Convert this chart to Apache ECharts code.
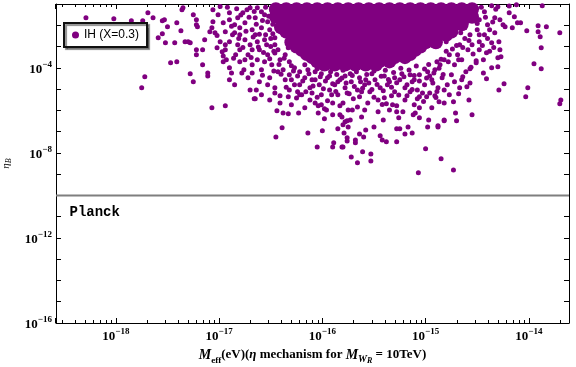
<!DOCTYPE html>
<html>
<head>
<meta charset="utf-8">
<script src="https://cdn.jsdelivr.net/npm/echarts@6/dist/echarts.min.js"></script>
<style>
  html, body { margin: 0; padding: 0; background: #fff; }
  #chart { width: 576px; height: 367px; }
</style>
</head>
<body>
<div id="chart"></div>
<script>
const seriesName = 'IH (X=0.3)'
const xRange = [2.63e-19, 2.45e-14]
const yRange = [1e-16, 1e-1]
const planck = 1e-10

// minor ticks of the log x axis (2..9 x 10^n)
const xMinorTicks = [
  3e-19, 4e-19, 5e-19, 6e-19, 7e-19, 8e-19, 9e-19,
  2e-18, 3e-18, 4e-18, 5e-18, 6e-18, 7e-18, 8e-18, 9e-18,
  2e-17, 3e-17, 4e-17, 5e-17, 6e-17, 7e-17, 8e-17, 9e-17,
  2e-16, 3e-16, 4e-16, 5e-16, 6e-16, 7e-16, 8e-16, 9e-16,
  2e-15, 3e-15, 4e-15, 5e-15, 6e-15, 7e-15, 8e-15, 9e-15,
  2e-14,
]

// points as [log10 Meff, log10 etaB]
// the solid dense core of the cloud
const corePoints = [
  [-16.45, -1.25], [-16.35, -1.25], [-16.25, -1.25], [-16.15, -1.25], [-16.05, -1.25], [-15.95, -1.25], [-15.85, -1.25],
  [-15.75, -1.25], [-15.65, -1.25], [-15.55, -1.25], [-15.45, -1.25], [-15.35, -1.25], [-15.25, -1.25], [-15.15, -1.25],
  [-15.05, -1.25], [-14.95, -1.25], [-14.85, -1.25], [-14.75, -1.25], [-14.65, -1.25], [-14.55, -1.25],
  [-16.45, -1.6], [-16.35, -1.6], [-16.25, -1.6], [-16.15, -1.6], [-16.05, -1.6], [-15.95, -1.6], [-15.85, -1.6],
  [-15.75, -1.6], [-15.65, -1.6], [-15.55, -1.6], [-15.45, -1.6], [-15.35, -1.6], [-15.25, -1.6], [-15.15, -1.6],
  [-15.05, -1.6], [-14.95, -1.6], [-14.85, -1.6], [-14.75, -1.6], [-14.65, -1.6], [-14.55, -1.6],
  [-16.35, -1.95], [-16.25, -1.95], [-16.15, -1.95], [-16.05, -1.95], [-15.95, -1.95], [-15.85, -1.95], [-15.75, -1.95],
  [-15.65, -1.95], [-15.55, -1.95], [-15.45, -1.95], [-15.35, -1.95], [-15.25, -1.95], [-15.15, -1.95], [-15.05, -1.95],
  [-14.95, -1.95], [-14.85, -1.95], [-14.75, -1.95], [-14.65, -1.95],
  [-16.35, -2.3], [-16.25, -2.3], [-16.15, -2.3], [-16.05, -2.3], [-15.95, -2.3], [-15.85, -2.3], [-15.75, -2.3],
  [-15.65, -2.3], [-15.55, -2.3], [-15.45, -2.3], [-15.35, -2.3], [-15.25, -2.3], [-15.15, -2.3], [-15.05, -2.3],
  [-14.95, -2.3], [-14.85, -2.3], [-14.75, -2.3],
  [-16.25, -2.65], [-16.15, -2.65], [-16.05, -2.65], [-15.95, -2.65], [-15.85, -2.65], [-15.75, -2.65], [-15.65, -2.65],
  [-15.55, -2.65], [-15.45, -2.65], [-15.35, -2.65], [-15.25, -2.65], [-15.15, -2.65], [-15.05, -2.65], [-14.95, -2.65],
  [-16.25, -3.0], [-16.15, -3.0], [-16.05, -3.0], [-15.95, -3.0], [-15.85, -3.0], [-15.75, -3.0], [-15.65, -3.0],
  [-15.55, -3.0], [-15.45, -3.0], [-15.35, -3.0], [-15.25, -3.0], [-15.15, -3.0], [-15.05, -3.0],
  [-16.15, -3.35], [-16.05, -3.35], [-15.95, -3.35], [-15.85, -3.35], [-15.75, -3.35], [-15.65, -3.35],
  [-15.55, -3.35], [-15.45, -3.35], [-15.35, -3.35], [-15.25, -3.35], [-15.15, -3.35],
  [-16.05, -3.7], [-15.95, -3.7], [-15.85, -3.7], [-15.75, -3.7], [-15.65, -3.7], [-15.55, -3.7], [-15.45, -3.7], [-15.35, -3.7],
  // filling the ragged lower edge of the core
  [-15.98, -3.85], [-15.88, -3.85], [-15.78, -3.85], [-15.68, -3.85], [-15.58, -3.85], [-15.48, -3.85],
  [-16.10, -3.5], [-16.00, -3.5], [-15.90, -3.5], [-15.80, -3.5], [-15.70, -3.5], [-15.60, -3.5], [-15.50, -3.5],
  [-15.40, -3.5], [-15.30, -3.5], [-15.20, -3.5],
  [-16.20, -3.15], [-15.10, -3.15], [-16.30, -2.8], [-15.00, -2.8], [-14.90, -2.8], [-14.80, -2.45], [-16.40, -2.1],
]

// the scattered points around it
const scatterPoints = [
  // far left
  [-18.29, -1.65], [-18.02, -1.69], [-17.85, -1.79], [-17.74, -1.79], [-17.69, -1.41], [-17.64, -1.65], [-17.55, -1.79],
  [-17.53, -1.74], [-17.50, -2.07], [-17.41, -1.88], [-17.59, -2.59], [-17.55, -2.40], [-17.52, -2.82], [-17.43, -2.82],
  [-17.37, -2.26], [-17.47, -3.76], [-17.41, -3.72], [-17.72, -4.42], [-17.75, -4.94], [-17.35, -1.18], [-17.33, -2.78],
  // left, medium density
  [-17.36, -1.27], [-17.25, -1.51], [-17.22, -1.74], [-17.22, -1.98], [-17.21, -2.07], [-17.30, -2.78], [-17.28, -2.82],
  [-17.22, -3.15], [-17.22, -3.39], [-17.16, -3.15], [-17.16, -3.86], [-17.25, -4.66], [-17.28, -4.28], [-17.11, -4.24],
  [-17.11, -4.38], [-17.06, -1.27], [-17.06, -1.84], [-17.07, -2.12], [-17.09, -2.31], [-17.04, -2.35], [-16.96, -1.88],
  [-16.99, -2.78], [-17.02, -3.06], [-16.97, -3.25], [-16.94, -3.15], [-16.90, -4.00], [-16.90, -4.56], [-16.88, -4.24],
  [-16.78, -4.24], [-16.96, -3.72], [-16.93, -3.62], [-16.90, -2.78], [-16.87, -2.45], [-16.85, -2.35], [-16.90, -1.41],
  [-16.90, -1.74], [-16.85, -1.98], [-16.77, -1.41], [-16.73, -1.27], [-16.70, -1.18], [-16.80, -2.12], [-16.75, -1.88],
  [-16.70, -5.04], [-16.64, -5.04], [-16.65, -5.46],
  [-16.75, -2.68], [-16.70, -2.92], [-16.65, -2.45], [-16.61, -3.15], [-16.72, -3.39], [-16.63, -3.62], [-16.56, -2.68],
  [-16.59, -2.12], [-16.65, -1.65], [-16.56, -1.51], [-16.53, -3.39], [-16.49, -3.86], [-16.59, -4.09], [-16.51, -4.47],
  [-16.43, -4.19], [-16.41, -3.62], [-16.46, -2.92], [-16.68, -3.86], [-16.75, -3.62], [-16.80, -3.15], [-16.82, -2.92],
  [-16.61, -4.66], [-16.53, -4.80], [-16.46, -4.94], [-16.36, -4.56], [-16.38, -4.09], [-16.32, -4.33], [-16.27, -4.80],
  [-16.80, -3.72], [-16.84, -3.39],
  [-17.14, -2.68], [-17.01, -1.51], [-16.94, -2.31], [-16.82, -1.65], [-16.68, -2.21], [-16.63, -2.78], [-16.76, -4.09],
  [-16.85, -4.80], [-16.72, -4.47], [-16.59, -5.27], [-16.51, -5.51], [-16.56, -3.72], [-16.68, -3.15], [-16.94, -2.92],
  [-16.80, -2.45],
  [-16.92, -1.15], [-16.88, -2.05], [-16.83, -1.22], [-16.81, -2.62], [-16.79, -1.52], [-16.77, -3.05], [-16.74, -2.28],
  [-16.71, -1.62], [-16.69, -3.52], [-16.67, -2.55], [-16.66, -1.35], [-16.64, -1.95], [-16.62, -3.02], [-16.61, -2.42],
  [-16.58, -1.78], [-16.57, -3.28], [-16.55, -1.15], [-16.54, -2.92], [-16.52, -1.58], [-16.51, -3.58], [-16.50, -2.62],
  [-16.48, -1.95], [-16.47, -3.22], [-16.58, -4.35], [-16.68, -4.25], [-16.47, -4.15], [-16.86, -3.55], [-16.99, -1.12],
  [-17.02, -2.48], [-16.96, -3.45],
  // edge of the core
  [-16.63, -1.18], [-16.59, -1.36], [-16.53, -1.84], [-16.51, -2.21], [-16.49, -1.27], [-16.55, -2.45], [-16.46, -2.59],
  [-16.43, -3.15], [-16.36, -3.39], [-16.33, -3.06], [-16.32, -3.72], [-16.27, -4.00], [-16.22, -4.19], [-16.17, -3.86],
  [-14.79, -1.27], [-14.72, -1.74], [-14.75, -2.45], [-14.80, -2.78], [-14.67, -1.98], [-14.65, -1.36], [-14.77, -3.39],
  [-14.82, -3.62], [-14.86, -3.86], [-14.91, -4.09], [-14.98, -4.19], [-15.06, -4.33], [-15.15, -4.33], [-15.30, -4.47],
  [-15.40, -4.38], [-15.64, -4.47], [-15.78, -4.38], [-15.93, -4.38], [-16.07, -4.19], [-16.14, -4.09],
  [-16.42, -3.85], [-16.37, -3.55], [-16.30, -3.90], [-16.46, -3.30], [-16.50, -3.00], [-16.48, -2.40], [-16.44, -2.05],
  // below the core
  [-16.30, -4.56], [-16.22, -4.80], [-16.17, -4.47], [-16.12, -4.94], [-16.07, -4.56], [-16.03, -4.80], [-15.95, -4.47],
  [-15.88, -4.80], [-15.83, -4.56], [-15.78, -4.94], [-15.72, -4.66], [-15.66, -5.04], [-15.59, -4.80], [-15.54, -5.13],
  [-15.49, -4.56], [-15.44, -4.94], [-15.37, -4.80], [-15.30, -5.13], [-15.25, -4.56], [-15.20, -4.94], [-15.13, -4.66],
  [-15.08, -5.04], [-15.01, -4.80], [-14.94, -4.56], [-14.88, -4.94], [-14.84, -4.47], [-16.22, -5.27], [-15.93, -5.04],
  [-15.64, -5.36], [-15.46, -5.51], [-15.20, -5.51], [-15.11, -5.74], [-15.56, -5.65], [-16.12, -5.51],
  [-16.24, -4.38], [-16.10, -4.56], [-16.01, -4.28], [-15.85, -4.66], [-15.73, -4.28], [-15.58, -4.56], [-15.52, -4.28],
  [-15.35, -4.66], [-15.23, -4.28], [-15.11, -4.56], [-14.96, -4.38], [-14.89, -3.72], [-16.32, -5.04], [-16.16, -5.13],
  [-15.62, -5.13], [-15.33, -5.32], [-15.15, -5.13], [-14.91, -5.32], [-15.06, -5.88], [-14.94, -5.88], [-15.46, -6.07],
  [-15.59, -5.98], [-16.17, -5.88], [-16.30, -5.74],
  [-16.28, -4.15], [-16.19, -4.62], [-16.13, -4.28], [-16.09, -4.85], [-16.05, -4.05], [-16.02, -4.42], [-15.99, -4.98],
  [-15.97, -4.62], [-15.92, -4.18], [-15.90, -4.75], [-15.87, -5.12], [-15.86, -4.32], [-15.81, -4.48], [-15.80, -4.12],
  [-15.77, -4.72], [-15.74, -5.22], [-15.71, -4.36], [-15.69, -4.88], [-15.67, -4.18], [-15.63, -4.66], [-15.61, -4.96],
  [-15.57, -4.32], [-15.55, -4.72], [-15.52, -5.02], [-15.50, -4.15], [-15.47, -4.78], [-15.43, -4.40], [-15.41, -5.08],
  [-15.39, -4.12], [-15.36, -4.55], [-15.33, -4.92], [-15.31, -4.22], [-15.28, -4.70], [-15.26, -5.28], [-15.24, -4.02],
  [-15.21, -4.42], [-15.18, -4.80], [-15.16, -4.10], [-15.13, -5.02], [-15.11, -4.36], [-15.09, -3.92], [-15.06, -4.62],
  [-15.03, -5.18], [-15.01, -4.06], [-14.99, -4.48], [-14.97, -3.84], [-14.93, -4.72], [-14.92, -4.25], [-14.89, -5.12],
  [-14.87, -4.02], [-14.85, -3.60], [-14.83, -4.32], [-16.25, -5.42], [-16.05, -5.38], [-15.95, -5.55], [-15.70, -5.45],
  [-15.50, -5.38], [-15.42, -5.72], [-15.18, -5.32], [-15.02, -5.58], [-14.90, -5.40], [-16.35, -4.92], [-16.40, -4.30],
  // lower tail
  [-17.07, -5.88], [-16.94, -5.79], [-16.66, -5.46], [-16.45, -7.25], [-16.39, -6.82], [-16.44, -6.02], [-16.41, -5.65],
  [-16.38, -6.12], [-16.33, -6.16], [-16.46, -5.18], [-16.41, -5.32], [-16.33, -5.36], [-16.23, -6.12], [-16.24, -5.13],
  [-16.20, -5.27], [-16.14, -7.06], [-16.10, -5.18], [-16.07, -5.65], [-16.04, -5.79], [-16.01, -5.74], [-16.04, -6.12],
  [-15.98, -5.93], [-15.96, -5.98], [-15.98, -6.40], [-16.00, -6.96], [-16.05, -7.72], [-15.90, -7.72], [-15.89, -7.53],
  [-15.85, -6.87], [-15.80, -7.72], [-15.79, -7.06], [-15.76, -7.29], [-15.76, -7.44], [-15.80, -6.68], [-15.90, -6.21],
  [-15.83, -6.21], [-15.81, -6.31], [-15.76, -6.49], [-16.01, -5.27], [-15.91, -5.27], [-15.85, -5.27], [-15.76, -5.18],
  [-15.90, -5.65], [-15.83, -5.79], [-15.80, -5.65], [-15.75, -5.98],
  [-14.68, -5.22], [-14.58, -5.51], [-14.55, -6.21], [-14.71, -6.12], [-14.70, -6.49], [-14.73, -5.60], [-14.82, -5.65],
  [-14.87, -5.60], [-14.97, -6.45], [-14.98, -6.78], [-14.88, -6.73], [-14.82, -6.45], [-15.06, -6.35], [-15.10, -6.12],
  [-15.12, -6.21], [-15.13, -7.06], [-15.20, -7.11], [-15.17, -6.78], [-15.25, -6.87], [-15.28, -6.87], [-15.28, -7.48],
  [-15.38, -7.48], [-15.42, -7.39], [-15.44, -7.20], [-15.50, -6.78], [-15.41, -6.45], [-15.26, -6.35], [-15.22, -6.07],
  [-15.28, -6.07], [-15.35, -5.98], [-15.32, -5.74], [-15.28, -5.79], [-15.38, -5.69], [-15.40, -5.41], [-14.99, -5.36],
  [-14.96, -5.18], [-15.08, -5.46], [-15.06, -5.36], [-15.00, -7.81], [-14.85, -8.28], [-15.07, -8.94], [-14.73, -8.80],
  [-15.61, -7.95], [-15.53, -8.05], [-15.53, -8.38], [-15.66, -8.47], [-15.72, -8.19], [-15.81, -7.72], [-15.68, -7.39],
  [-15.68, -7.53], [-15.60, -7.25], [-15.64, -7.11], [-15.58, -6.92], [-15.78, -6.54], [-15.75, -6.78], [-15.73, -6.45],
  [-15.71, -5.98], [-15.66, -5.84], [-15.62, -6.31],
  // right side
  [-14.62, -1.27], [-14.57, -1.51], [-14.52, -1.18], [-14.48, -1.74], [-14.43, -1.36], [-14.40, -1.98], [-14.50, -2.21],
  [-14.57, -2.45], [-14.62, -2.12], [-14.67, -2.92], [-14.59, -3.15], [-14.69, -3.39], [-14.72, -3.86], [-14.65, -3.62],
  [-14.55, -2.92], [-14.43, -2.45], [-14.38, -2.21], [-14.75, -4.33], [-14.79, -4.80], [-14.72, -4.66], [-14.82, -5.04],
  [-14.77, -5.27], [-14.67, -4.94],
  [-14.53, -1.45], [-14.50, -1.92], [-14.48, -2.45], [-14.46, -1.15], [-14.45, -2.95], [-14.42, -1.62], [-14.40, -2.62],
  [-14.38, -3.22], [-14.35, -1.85], [-14.33, -2.35], [-14.32, -1.25], [-14.54, -3.35], [-14.58, -2.72], [-14.60, -1.82],
  [-14.62, -2.62], [-14.64, -3.05], [-14.66, -2.35], [-14.68, -3.62], [-14.70, -2.95], [-14.74, -3.12], [-14.78, -3.72],
  [-14.80, -3.22], [-14.56, -3.98], [-14.44, -3.62], [-14.34, -3.05],
  [-13.87, -1.08], [-13.70, -2.35], [-13.91, -2.02], [-13.83, -2.07], [-13.91, -2.31], [-13.89, -2.54], [-13.88, -3.06],
  [-13.95, -3.81], [-13.88, -4.05], [-14.02, -2.26], [-14.03, -5.36], [-14.01, -4.94], [-13.69, -5.51], [-13.70, -5.69],
  [-14.16, -2.12], [-14.11, -1.88], [-14.08, -1.88], [-14.23, -2.07], [-14.25, -1.98], [-14.19, -1.41], [-14.14, -1.60],
  [-14.28, -1.74], [-14.33, -1.65], [-14.29, -2.78], [-14.28, -3.15], [-14.27, -3.48], [-14.30, -3.53], [-14.30, -3.95],
  [-14.36, -4.00], [-14.29, -5.04], [-14.24, -4.75], [-14.41, -4.52], [-14.44, -4.24], [-14.41, -3.29], [-14.48, -3.15],
  [-14.36, -2.82], [-14.48, -2.78], [-14.57, -4.71], [-14.60, -4.89], [-14.64, -4.42], [-14.65, -4.56], [-14.61, -4.19],
  [-14.57, -4.05], [-14.51, -3.67], [-14.51, -3.76], [-14.82, -6.49], [-14.88, -6.78],
  [-14.12, -1.04], [-14.19, -1.09], [-14.30, -1.13], [-14.36, -1.08],
]

const toValues = pts => pts.map(p => [Math.pow(10, p[0]), Math.pow(10, p[1])])

function powLabel(v, every) {
  const n = Math.log10(v)
  const r = Math.round(n)
  if (Math.abs(n - r) > 1e-6 || r % every !== 0)
    return ''
  return '{b|10}{e|\u2212' + (-r) + '}'
}

const serif = 'Liberation Serif'
const tickRich = {
  b: { fontFamily: serif, fontWeight: 'bold', fontSize: 13, lineHeight: 16, verticalAlign: 'bottom', color: '#000' },
  e: { fontFamily: serif, fontWeight: 'bold', fontSize: 9, lineHeight: 9, verticalAlign: 'top', color: '#000' },
}

const chart = echarts.init(document.getElementById('chart'))

const frameAxis = {
  type: 'log',
  axisLine: { show: true, lineStyle: { color: '#000', width: 1 } },
  axisTick: { show: true, inside: true, length: 5, lineStyle: { color: '#000' } },
  splitLine: { show: false },
  minorTick: { show: false },
}

chart.setOption({
  animation: false,
  backgroundColor: '#fff',
  grid: { left: 56, right: 7, top: 4, bottom: 44, containLabel: false, outerBoundsMode: 'none' },
  legend: {
    data: [seriesName],
    left: 64,
    top: 23,
    padding: [6, 8, 6, 8],
    itemWidth: 7,
    itemHeight: 7,
    backgroundColor: '#fff',
    borderColor: '#111',
    borderWidth: 2,
    borderRadius: 0,
    shadowColor: 'rgba(0,0,0,0.45)',
    shadowBlur: 1,
    shadowOffsetX: 2,
    shadowOffsetY: 2,
    textStyle: { fontFamily: 'Liberation Sans', fontSize: 12, color: '#000' },
  },
  xAxis: [
    {
      ...frameAxis,
      min: xRange[0],
      max: xRange[1],
      position: 'bottom',
      axisLabel: { margin: 4, formatter: v => powLabel(v, 1), rich: tickRich },
      name: '{m|M}{sub|eff}{t|(eV)(}{g|\u03b7}{t| mechanism for }{m|M}{sw|W}{sr|R}{t| = 10TeV)}',
      nameLocation: 'middle',
      nameGap: 20,
      nameTextStyle: {
        rich: {
          m: { fontFamily: serif, fontStyle: 'italic', fontWeight: 'bold', fontSize: 14, lineHeight: 20, color: '#000' },
          t: { fontFamily: serif, fontWeight: 'bold', fontSize: 13, lineHeight: 20, color: '#000' },
          g: { fontFamily: serif, fontStyle: 'italic', fontWeight: 'bold', fontSize: 13, lineHeight: 20, color: '#000' },
          sub: { fontFamily: serif, fontWeight: 'bold', fontSize: 9, lineHeight: 12, verticalAlign: 'bottom', color: '#000' },
          sw: { fontFamily: serif, fontStyle: 'italic', fontWeight: 'bold', fontSize: 10, lineHeight: 12, verticalAlign: 'bottom', color: '#000' },
          sr: { fontFamily: serif, fontStyle: 'italic', fontWeight: 'bold', fontSize: 8, lineHeight: 7, verticalAlign: 'bottom', color: '#000' },
        },
      },
    },
    {
      ...frameAxis,
      min: xRange[0],
      max: xRange[1],
      position: 'top',
      axisLabel: { show: false },
    },
  ],
  yAxis: [
    {
      ...frameAxis,
      min: yRange[0],
      max: yRange[1],
      interval: 1,
      position: 'left',
      axisLabel: { margin: 4, formatter: v => powLabel(v, 4), rich: tickRich },
      name: '{g|\u03b7}{s|B}',
      nameLocation: 'middle',
      nameGap: 43,
      nameTextStyle: {
        rich: {
          g: { fontFamily: serif, fontStyle: 'italic', fontSize: 11, lineHeight: 14, color: '#000' },
          s: { fontFamily: serif, fontStyle: 'italic', fontSize: 8, lineHeight: 9, verticalAlign: 'bottom', color: '#000' },
        },
      },
    },
    {
      ...frameAxis,
      min: yRange[0],
      max: yRange[1],
      interval: 1,
      position: 'right',
      axisLabel: { show: false },
    },
  ],
  series: [
    {
      name: seriesName,
      type: 'scatter',
      symbol: 'circle',
      symbolSize: 14,
      itemStyle: { color: '#800080', opacity: 1 },
      data: toValues(corePoints),
    },
    {
      name: seriesName,
      type: 'scatter',
      symbol: 'circle',
      symbolSize: 5,
      itemStyle: { color: '#800080', opacity: 1 },
      data: toValues(scatterPoints),
    },
    {
      name: 'Planck',
      type: 'line',
      silent: true,
      symbol: 'circle',
      symbolSize: 1,
      showSymbol: true,
      itemStyle: { color: 'rgba(0,0,0,0)' },
      lineStyle: { color: '#7f7f7f', width: 2 },
      data: [
        {
          value: [xRange[0], planck],
          label: {
            show: true,
            position: 'right',
            distance: 5,
            offset: [8, 17],
            formatter: 'Planck',
            fontFamily: 'Liberation Mono',
            fontWeight: 'bold',
            fontSize: 14,
            color: '#000',
          },
        },
        [xRange[1], planck],
      ],
    },
    {
      name: 'minor ticks',
      type: 'custom',
      silent: true,
      data: xMinorTicks.map(v => [v, planck]),
      renderItem(params, api) {
        const x = Math.round(api.coord([api.value(0), planck])[0]) + 0.5
        const cs = params.coordSys
        const bottom = cs.y + cs.height
        return {
          type: 'group',
          children: [
            { type: 'line', shape: { x1: x, y1: bottom, x2: x, y2: bottom - 3 }, style: { stroke: '#000', lineWidth: 1 } },
            { type: 'line', shape: { x1: x, y1: cs.y, x2: x, y2: cs.y + 3 }, style: { stroke: '#000', lineWidth: 1 } },
          ],
        }
      },
    },
  ],
})
</script>
</body>
</html>
